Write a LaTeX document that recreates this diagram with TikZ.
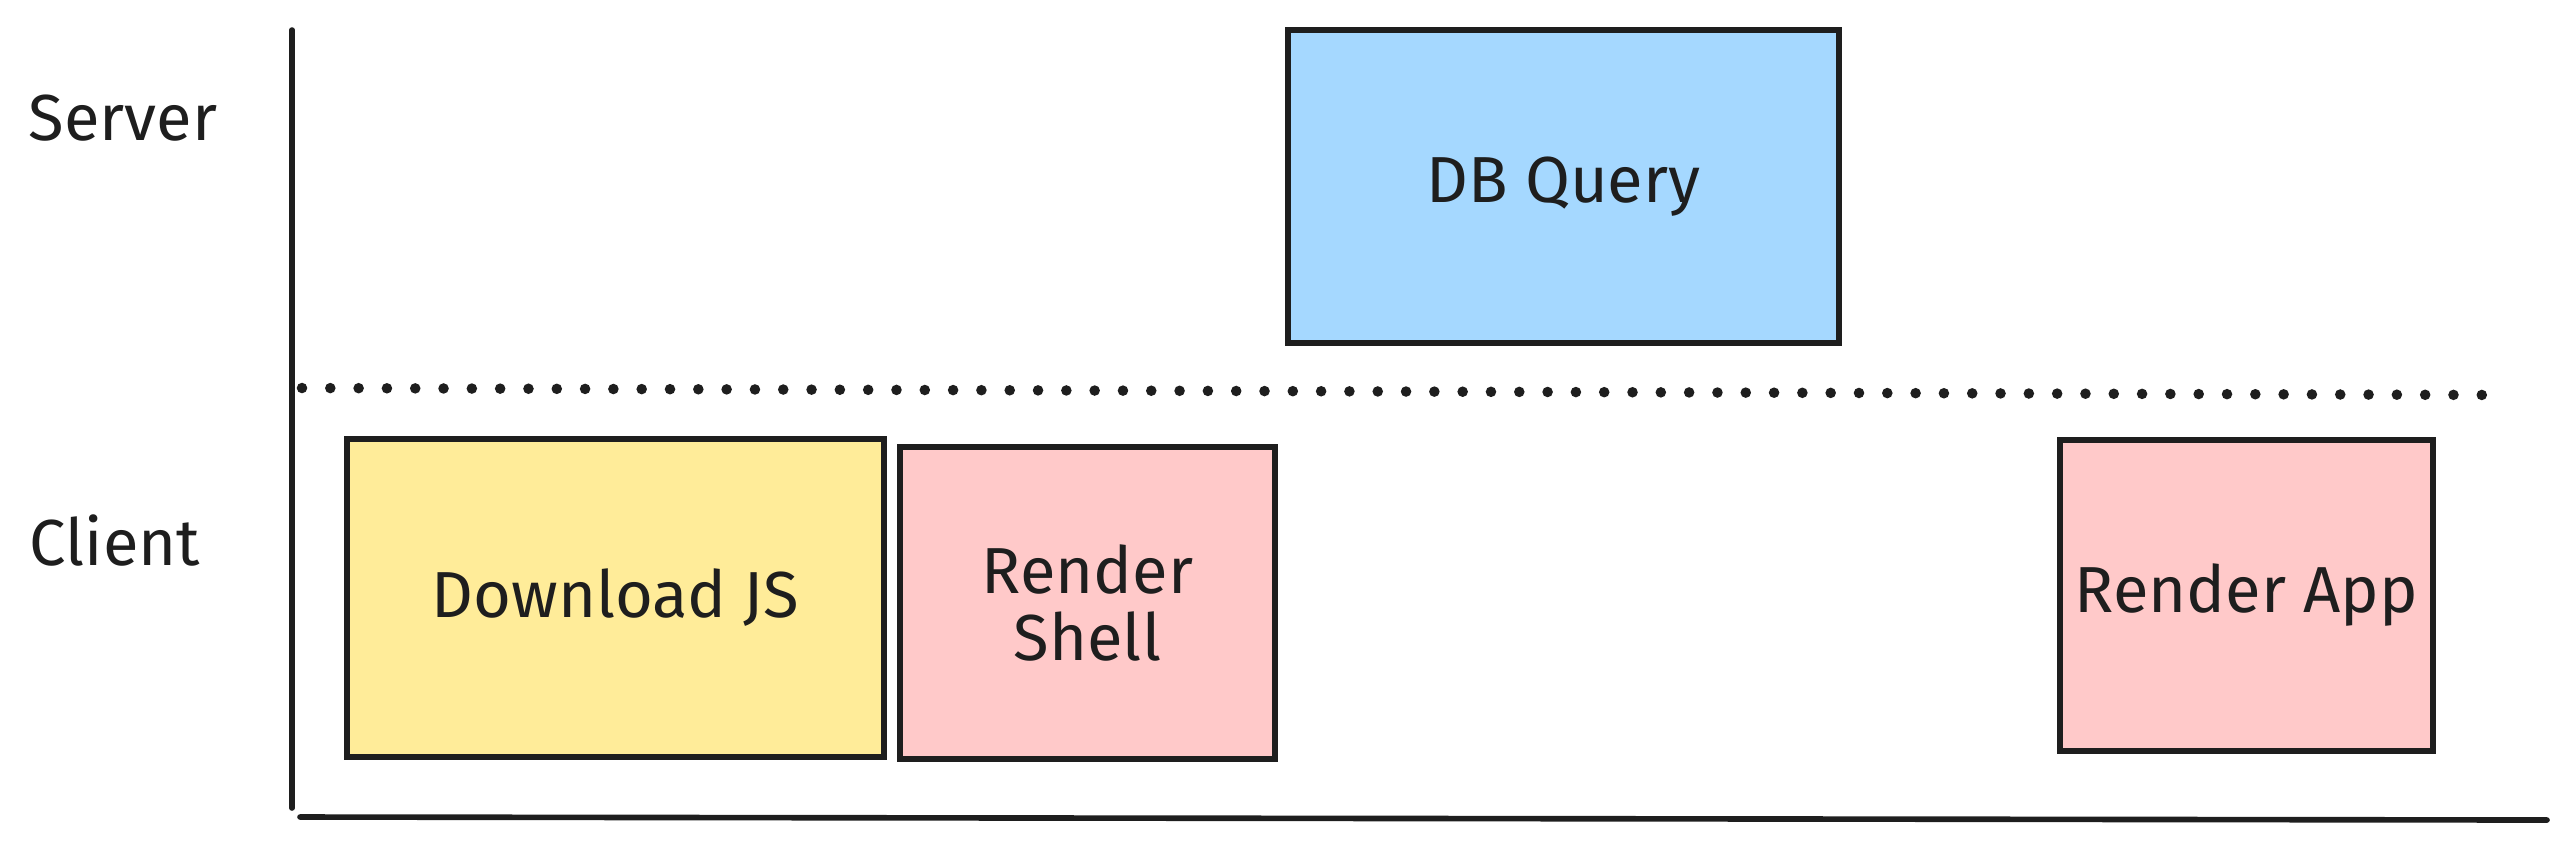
\documentclass[tikz,border=0pt]{standalone}
\usepackage{fontspec}
\setmainfont{Fira Sans}
\definecolor{ink}{HTML}{1E1E1E}
\definecolor{yel}{HTML}{FFEC99}
\definecolor{pnk}{HTML}{FFC9C9}
\definecolor{blu}{HTML}{A5D8FF}
\begin{document}
\begin{tikzpicture}[x=0.01cm,y=-0.01cm,
  task/.style={draw=ink,line width=1.6pt,text=ink,font=\fontsize{18.5}{19}\selectfont,align=center,inner sep=0pt},
  lane/.style={text=ink,font=\fontsize{18.5}{19}\selectfont,inner sep=0pt},
  axis/.style={draw=ink,line width=1.6pt,line cap=round}]
\useasboundingbox (0,0) rectangle (2576,853);
% axes
\coordinate (ytop) at (292,30);
\coordinate (ybot) at (292,808);
\coordinate (xl) at (300,817);
\coordinate (xr) at (2547,820);
\draw[axis] (ytop) -- (ybot);
\draw[axis] (xl) -- (xr);
% divider
\coordinate (divl) at (302,388);
\coordinate (divr) at (2500,395);
\draw[ink,line width=3pt,line cap=round,dash pattern=on 0pt off 8.05pt] (divl) -- (divr);
% lane labels
\node[lane] (server) at (123,118) {Server};
\node[lane] (client) at (115,540) {Client};
% tasks
\node[task,fill=blu,minimum width=5.51cm,minimum height=3.13cm] (db) at (1563.5,186.5) {DB Query};
\node[task,fill=yel,minimum width=5.37cm,minimum height=3.18cm] (dljs) at (615.5,598) {Download JS};
\node[task,fill=pnk,minimum width=3.75cm,minimum height=3.12cm] (rs) at (1087.5,603) {Render\\Shell};
\node[task,fill=pnk,minimum width=3.73cm,minimum height=3.11cm] (ra) at (2246.5,595.5) {Render App};
\end{tikzpicture}
\end{document}
